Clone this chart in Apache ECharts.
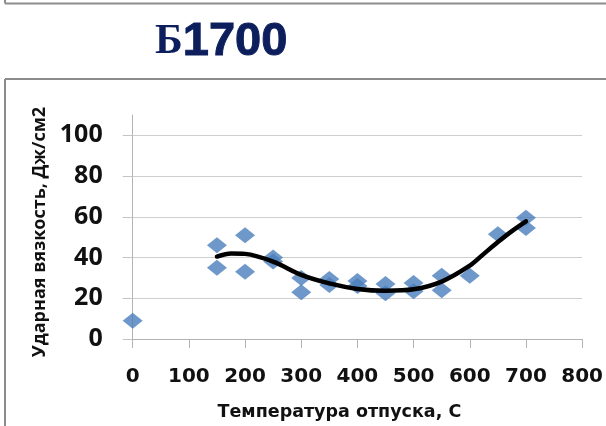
<!DOCTYPE html>
<html>
<head>
<meta charset="utf-8">
<script src="https://cdn.jsdelivr.net/npm/echarts@6/dist/echarts.min.js"></script>
<style>
  html, body { margin: 0; padding: 0; background: #ffffff; }
  #chart { width: 606px; height: 426px; }
</style>
</head>
<body>
<div id="chart"></div>
<script>
// Tempering temperature (°C) of each specimen
const temps = [0, 150, 150, 200, 200, 250, 250, 300, 300, 350, 350, 400, 400,
               450, 450, 500, 500, 550, 550, 600, 650, 700, 700];
// Impact toughness (J/cm²) of each specimen
const impact = [9, 46, 35, 51, 33, 40, 38, 30, 23, 29.5, 26.5, 28.5, 26,
                27, 22.5, 27.5, 23.5, 31, 24, 31, 51.5, 59.5, 54.5];
// Trend curve through the tempered specimens
const trendTemps = [150, 175, 200, 250, 300, 350, 400, 450, 500, 550, 600, 625, 650, 675, 700];
const trendValues = [40.5, 42, 41.8, 38, 31.5, 27.3, 24.6, 23.7, 24.4, 28.2, 36, 41.8, 47.6, 53, 57.8];
// Axis ticks
const xTicks = [0, 100, 200, 300, 400, 500, 600, 700, 800];
const yTicks = [0, 20, 40, 60, 80, 100];

const chart = echarts.init(document.getElementById('chart'), null, { renderer: 'canvas' });

const frameColor = '#8c8c8c';
const titleColor = '#0c1f5c';

chart.setOption({
  backgroundColor: '#ffffff',
  animation: false,
  title: {
    text: '{a|Б}{b|1700}',
    left: 150,
    top: 14,
    textStyle: {
      rich: {
        a: { fontFamily: 'Liberation Serif', fontWeight: 'bold', fontSize: 42, color: titleColor },
        b: {
          fontFamily: 'Liberation Sans', fontWeight: 'bold', fontSize: 47, color: titleColor,
          textBorderColor: titleColor, textBorderWidth: 1
        }
      }
    }
  },
  graphic: [
    { type: 'line', shape: { x1: 5, y1: 0, x2: 5, y2: 3.5 }, style: { stroke: frameColor, lineWidth: 2 } },
    { type: 'line', shape: { x1: 5, y1: 3.5, x2: 606, y2: 3.5 }, style: { stroke: frameColor, lineWidth: 2 } },
    { type: 'line', shape: { x1: 5, y1: 79, x2: 606, y2: 79 }, style: { stroke: frameColor, lineWidth: 2 } },
    { type: 'line', shape: { x1: 5, y1: 79, x2: 5, y2: 426 }, style: { stroke: frameColor, lineWidth: 2 } }
  ],
  grid: { left: 132.7, right: 19.3, top: 115, bottom: 87, containLabel: false },
  xAxis: {
    type: 'value',
    min: xTicks[0],
    max: xTicks[xTicks.length - 1],
    interval: 100,
    name: 'Температура отпуска, С',
    nameLocation: 'middle',
    nameGap: 64,
    nameTextStyle: {
      fontFamily: 'DejaVu Sans', fontWeight: 'bold', fontSize: 17.5, color: '#111111',
      padding: [0, 36, 0, 0]
    },
    axisLine: { show: true, lineStyle: { color: '#b3b3b3', width: 1 } },
    axisTick: { show: true, length: 9, lineStyle: { color: '#b3b3b3' } },
    splitLine: { show: false },
    axisLabel: {
      margin: 28,
      fontFamily: 'DejaVu Sans', fontWeight: 'bold', fontSize: 20, color: '#111111',
      showMaxLabel: true
    }
  },
  yAxis: {
    type: 'value',
    min: 0,
    max: 110,
    interval: 20,
    name: 'Ударная вязкость, Дж/см2',
    nameLocation: 'middle',
    nameGap: 81,
    nameTextStyle: {
      fontFamily: 'Open Sans', fontWeight: 'bold', fontSize: 18, color: '#111111',
      padding: [0, 10, 0, 0]
    },
    axisLine: { show: true, lineStyle: { color: '#b3b3b3', width: 1 } },
    axisTick: { show: true, length: 10, lineStyle: { color: '#c4c4c4' }, customValues: yTicks },
    splitLine: {
      show: true,
      lineStyle: { color: ['#cfcfcf', '#cfcfcf', '#cfcfcf', '#cfcfcf', '#cfcfcf', '#cfcfcf', 'rgba(0,0,0,0)'], width: 1 }
    },
    axisLabel: {
      margin: 30,
      fontFamily: 'Open Sans', fontWeight: 'bold', fontSize: 25, color: '#111111',
      customValues: yTicks,
      formatter: function (v) { return v > 100 ? '' : String(v); }
    }
  },
  series: [
    {
      type: 'scatter',
      data: temps.map((t, i) => [t, impact[i]]),
      symbol: 'diamond',
      symbolSize: [20, 16],
      itemStyle: { color: '#4a7ebb' },
      z: 2
    },
    {
      type: 'line',
      data: trendTemps.map((t, i) => [t, trendValues[i]]),
      smooth: 0.3,
      showSymbol: false,
      lineStyle: { color: '#000000', width: 4.5, cap: 'round' },
      z: 3
    }
  ]
});
</script>
</body>
</html>
